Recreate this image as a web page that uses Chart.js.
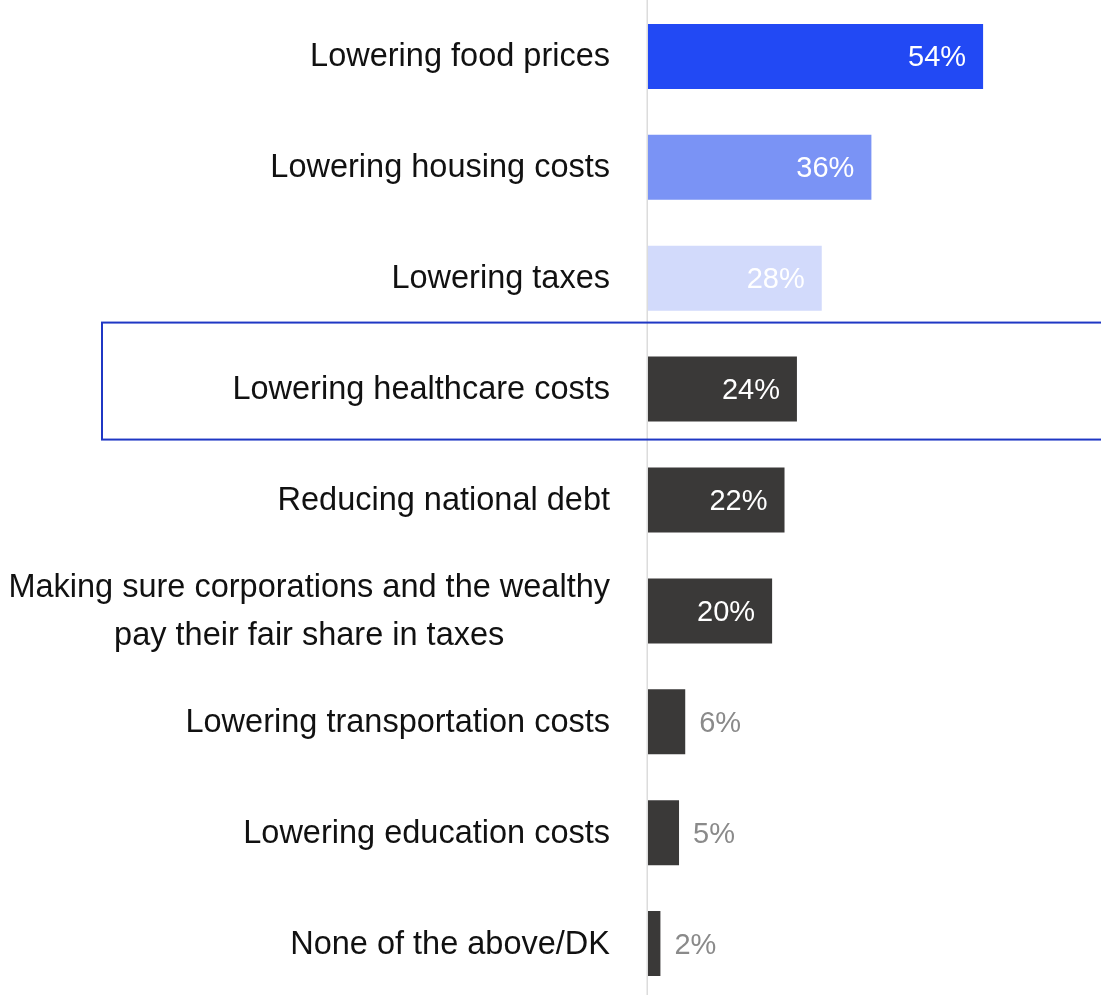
<!DOCTYPE html>
<html>
<head>
<meta charset="utf-8">
<script src="https://cdn.jsdelivr.net/npm/chart.js@4"></script>
<style>
  html, body { margin: 0; padding: 0; background: #ffffff; overflow: hidden; }
  #wrap { position: relative; width: 1101px; height: 999px; }
</style>
</head>
<body>
<div id="wrap"><canvas id="chart"></canvas></div>
<script>
// Priorities, top to bottom
const categories = [
  ["Lowering food prices"],
  ["Lowering housing costs"],
  ["Lowering taxes"],
  ["Lowering healthcare costs"],
  ["Reducing national debt"],
  ["Making sure corporations and the wealthy", "pay their fair share in taxes"],
  ["Lowering transportation costs"],
  ["Lowering education costs"],
  ["None of the above/DK"]
];
const shares = [54, 36, 28, 24, 22, 20, 6, 5, 2];
const barColors = ["#2249f4", "#7a93f5", "#d2dafb", "#3a3938", "#3a3938", "#3a3938", "#3a3938", "#3a3938", "#3a3938"];
const highlightIndex = 3;

const LABEL_FONT = '32.5px "Liberation Sans", Arial, sans-serif';
const VALUE_FONT = '29px "Liberation Sans", Arial, sans-serif';

// Axis line, category labels, value labels and the highlight frame
const decorations = {
  id: 'decorations',
  afterDatasetsDraw(chart) {
    const ctx = chart.ctx;
    const y = chart.scales.y;
    const area = chart.chartArea;
    const band = y.getPixelForValue(1) - y.getPixelForValue(0);

    ctx.save();
    // vertical baseline
    ctx.fillStyle = '#dcdcdc';
    ctx.fillRect(area.left - 1.5, 0, 1.5, chart.height);

    // category labels, right-aligned block with centred lines
    ctx.font = LABEL_FONT;
    ctx.fillStyle = '#111111';
    ctx.textBaseline = 'alphabetic';
    ctx.textAlign = 'center';
    const right = area.left - 38;
    const lineGap = 48;
    categories.forEach((lines, i) => {
      const cy = y.getPixelForValue(i);
      const w = Math.max(...lines.map(l => ctx.measureText(l).width));
      const cx = right - w / 2;
      const first = cy + 10 - (lines.length - 1) * lineGap / 2;
      lines.forEach((l, k) => ctx.fillText(l, cx, first + k * lineGap));
    });

    // value labels
    const meta = chart.getDatasetMeta(0);
    ctx.font = VALUE_FONT;
    meta.data.forEach((bar, i) => {
      const txt = shares[i] + '%';
      const ty = bar.y + 10;
      if (shares[i] >= 10) {
        ctx.textAlign = 'right';
        ctx.fillStyle = '#ffffff';
        ctx.fillText(txt, bar.x - 17, ty);
      } else {
        ctx.textAlign = 'left';
        ctx.fillStyle = '#8a8a8a';
        ctx.fillText(txt, bar.x + 14, ty);
      }
    });

    // highlight frame around one row
    const hy = y.getPixelForValue(highlightIndex);
    ctx.strokeStyle = '#1f37c4';
    ctx.lineWidth = 2;
    ctx.strokeRect(102, hy - band * 0.6, chart.width, band * 1.055);
    ctx.restore();
  }
};

new Chart(document.getElementById('chart'), {
  type: 'bar',
  data: {
    labels: categories,
    datasets: [{
      data: shares,
      backgroundColor: barColors,
      borderWidth: 0,
      barPercentage: 0.586,
      categoryPercentage: 1.0
    }]
  },
  options: {
    indexAxis: 'y',
    responsive: true,
    maintainAspectRatio: false,
    animation: false,
    layout: { padding: { left: 648, right: 0, top: 1, bottom: 0 } },
    plugins: { legend: { display: false }, tooltip: { enabled: false } },
    scales: {
      x: { display: false, min: 0, max: 73 },
      y: { display: false }
    }
  },
  plugins: [decorations]
});
</script>
</body>
</html>
